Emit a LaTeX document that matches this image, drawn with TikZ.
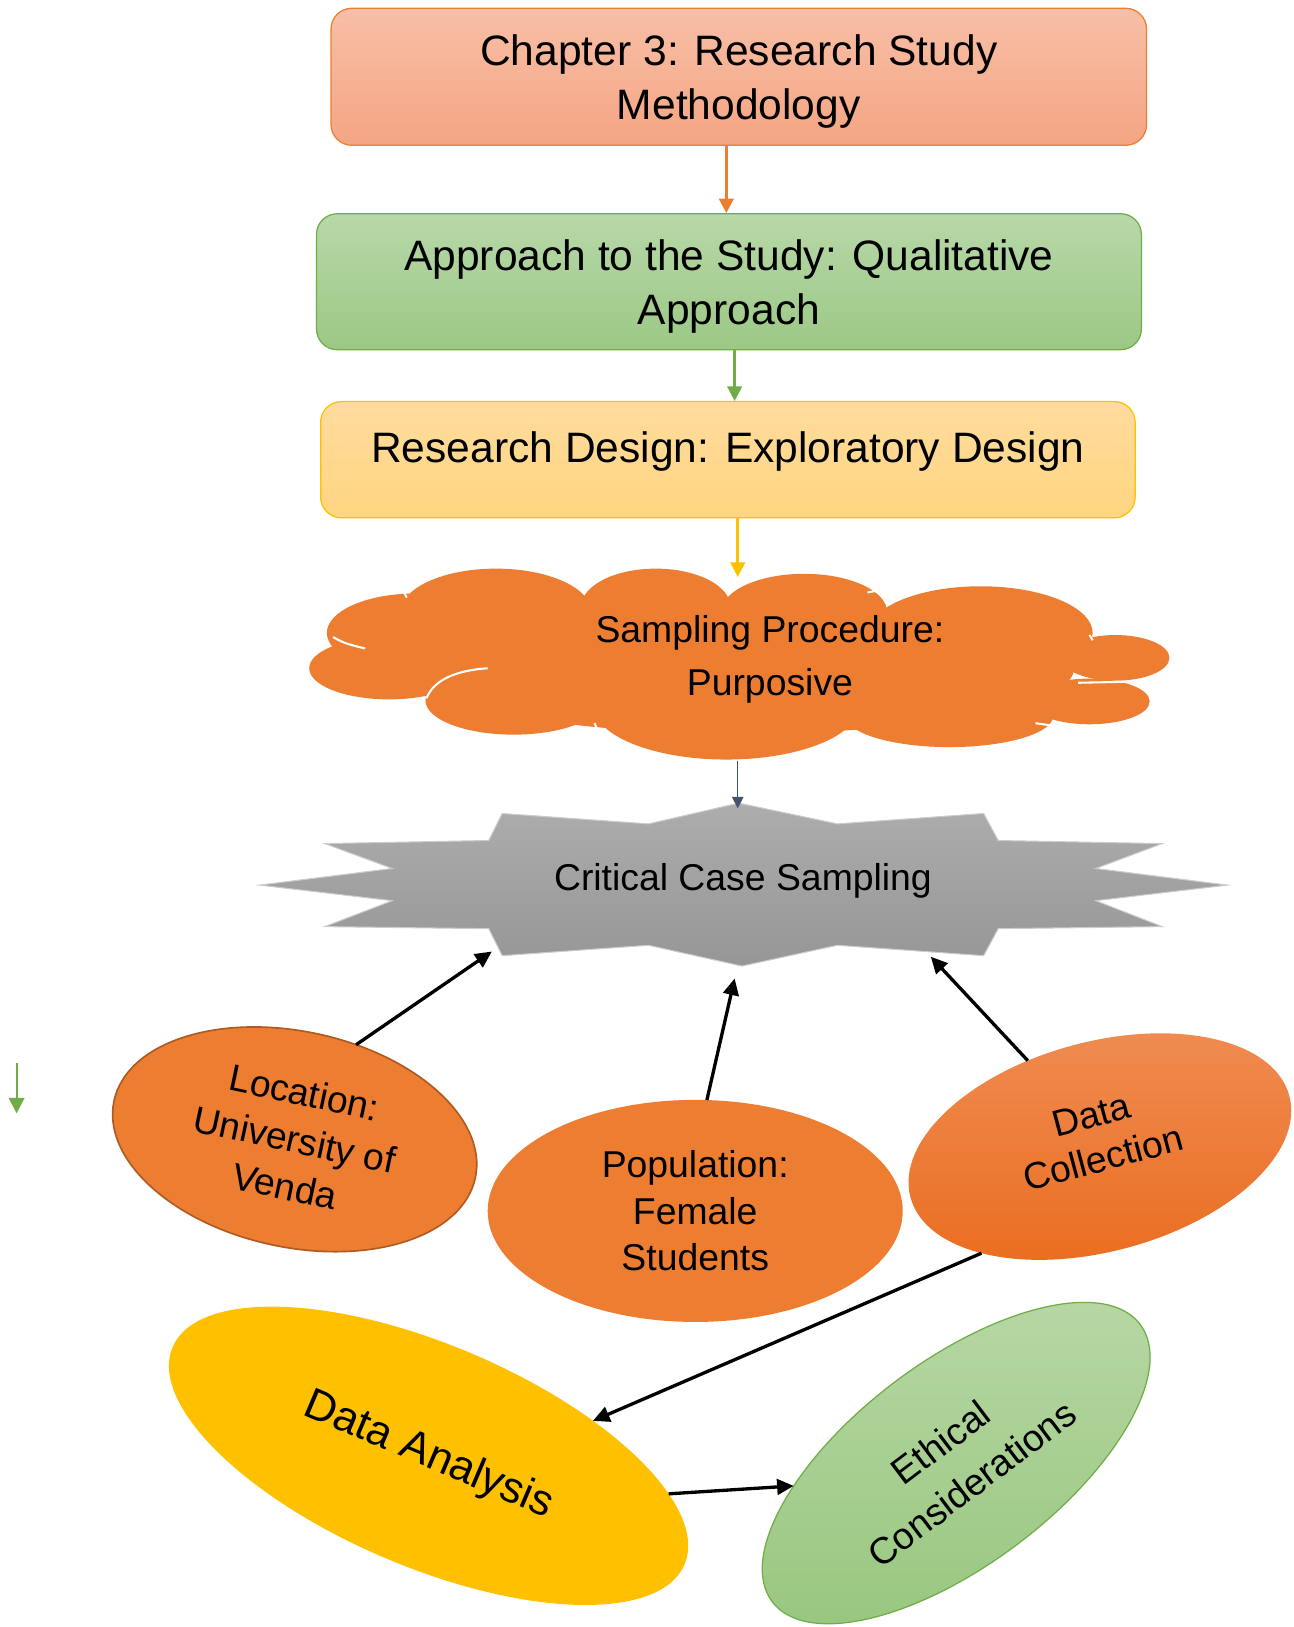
\documentclass[tikz,border=0pt]{standalone}
\usepackage{fontspec}
\setmainfont{Liberation Sans}
\usetikzlibrary{arrows.meta, shapes.geometric}
\definecolor{methodorange}{RGB}{237,125,49}
\definecolor{methodtop}{RGB}{248,191,167}
\definecolor{methodbot}{RGB}{244,165,131}
\definecolor{approachgreen}{RGB}{112,173,71}
\definecolor{approachtop}{RGB}{183,216,168}
\definecolor{approachbot}{RGB}{156,200,133}
\definecolor{designgold}{RGB}{255,192,0}
\definecolor{designtop}{RGB}{255,220,158}
\definecolor{designbot}{RGB}{255,213,128}
\definecolor{slate}{RGB}{68,84,106}
\definecolor{starlight}{RGB}{173,173,173}
\definecolor{stardark}{RGB}{150,150,150}
\definecolor{locborder}{RGB}{174,90,33}
\definecolor{collecttop}{RGB}{240,141,84}
\definecolor{collectbot}{RGB}{234,108,30}
\definecolor{ethictop}{RGB}{184,216,166}
\definecolor{ethicbot}{RGB}{153,199,128}

\begin{document}
\begin{tikzpicture}[x=0.5pt, y=-0.5pt,
  stagebox/.style={rounded corners=10pt, line width=0.6pt, align=center, inner sep=0pt, text depth=0pt, font=\fontsize{20.5}{26}\selectfont},
  oval/.style={ellipse, inner sep=0pt, outer sep=0pt, align=center, font=\fontsize{18}{23}\selectfont},
  flow/.style={line width=1.3pt, -{Triangle[length=7pt, width=7pt]}},
  link/.style={line width=1.6pt, -{Triangle[length=8pt, width=7.5pt]}}
]
\useasboundingbox (0,0) rectangle (1247,1568);

% stage boxes
\node[stagebox, draw=methodorange, top color=methodtop, bottom color=methodbot, minimum width=393pt, minimum height=66pt] (chap) at (712,74) {Chapter 3: Research Study\\Methodology};
\node[stagebox, draw=approachgreen, top color=approachtop, bottom color=approachbot, minimum width=397.5pt, minimum height=65.5pt] (appr) at (702.5,271.5) {Approach to the Study: Qualitative\\Approach};
\node[stagebox, draw=designgold, top color=designtop, bottom color=designbot, minimum width=392.5pt, minimum height=56pt, text depth=12pt] (design) at (701.5,443) {Research Design: Exploratory Design};

\draw[flow, methodorange] ([xshift=-6pt]chap.south) -- ([xshift=-6pt]chap.south |- appr.north);
\draw[flow, approachgreen] ([xshift=2.75pt]appr.south) -- ([xshift=2.75pt]appr.south |- design.north);

% sampling cloud
\foreach \cx/\cy/\rx/\ry in {375/644/77/30, 400/610/85/38, 478/590/92/42, 632/585/72/37, 775/590/80/37,
    945/610/108/45, 1075/634/52/22, 1050/676/58/22, 915/690/100/30, 700/680/128/52, 495/675/85/33, 715/645/320/62}
  \fill[methodorange] (\cx,\cy) ellipse [x radius=\rx, y radius=\ry];
\begin{scope}[white, line width=1pt]
  \draw (321,614) .. controls (332,620) .. (352,625);
  \draw (411,673) .. controls (418,655) and (440,646) .. (470,644);
  \foreach \ax/\ay/\bx/\by in {389/570/392/576, 560/556/568/563, 700/559/703/566, 836/571/852/568,
      1050/612/1053/617, 1039/658/1088/657, 998/697/1012/699, 817/712/825/706, 573/697/576/704}
    \draw (\ax,\ay) -- (\bx,\by);
\end{scope}
\node[align=center, text depth=0pt, font=\fontsize{18}{25.5}\selectfont] (samp) at (742,632) {Sampling Procedure:\\Purposive};
\coordinate (cloudtop) at (711,556);
\coordinate (cloudbot) at (711,733);
\draw[flow, designgold] ([xshift=4.75pt]design.south) -- (cloudtop);

% critical case star
\shadedraw[top color=starlight, bottom color=stardark, draw=black!20, line width=0.5pt]
  (712,774) -- (807,794) -- (948,784) -- (962,810) -- (1120,813) -- (1056,837) -- (1183,853)
  -- (1056,868) -- (1120,893) -- (962,895) -- (948,921) -- (807,911) -- (715,931) -- (625,911)
  -- (484,921) -- (471,895) -- (313,893) -- (378,868) -- (250,853) -- (378,837) -- (313,813)
  -- (471,810) -- (484,784) -- (625,794) -- cycle;
\node[text depth=0pt, font=\fontsize{18}{22}\selectfont] (crit) at (716,845) {Critical Case Sampling};
\coordinate (startop) at (711,779);
\coordinate (star-sw) at (474,917);
\coordinate (star-s) at (708,943);
\coordinate (star-se) at (897,922);
\draw[slate, line width=0.7pt, -{Triangle[length=5.5pt, width=5.5pt]}] (cloudbot) -- (startop);

% ovals
\node[oval, fill=methodorange, draw=locborder, line width=0.8pt, minimum width=178pt, minimum height=104pt, rotate=-12] (loc) at (284,1098) {Location:\\University of\\Venda};
\node[oval, fill=methodorange, minimum width=200pt, minimum height=107pt, font=\fontsize{18}{22.5}\selectfont] (pop) at (670,1167) {Population:\\Female\\Students};
\node[oval, top color=collecttop, bottom color=collectbot, minimum width=189pt, minimum height=101pt, rotate=15, text depth=10pt, font=\fontsize{18}{21.5}\selectfont] (coll) at (1060,1105) {Data\\Collection};
\node[oval, fill=designgold, minimum width=268pt, minimum height=107pt, rotate=-23, font=\fontsize{21}{25}\selectfont] (anal) at (413,1403) {Data Analysis};
\node[oval, top color=ethictop, bottom color=ethicbot, draw=approachgreen, line width=0.6pt, minimum width=222pt, minimum height=98pt, rotate=37, font=\fontsize{18}{25}\selectfont] (ethic) at (921.5,1410) {Ethical\\Considerations};

\draw[link] (loc.69) -- (star-sw);
\draw[link] (pop.84) -- (star-s);
\draw[link] (coll.115) -- (star-se);
\draw[link] (coll.207) -- (anal.35);
\draw[link] (anal.14) -- (ethic.151);

% loose arrow on the left
\coordinate (stray-a) at (16,1024);
\coordinate (stray-b) at (16,1073);
\draw[approachgreen, line width=1pt, -{Triangle[length=7.5pt, width=7.5pt]}] (stray-a) -- (stray-b);
\end{tikzpicture}
\end{document}
